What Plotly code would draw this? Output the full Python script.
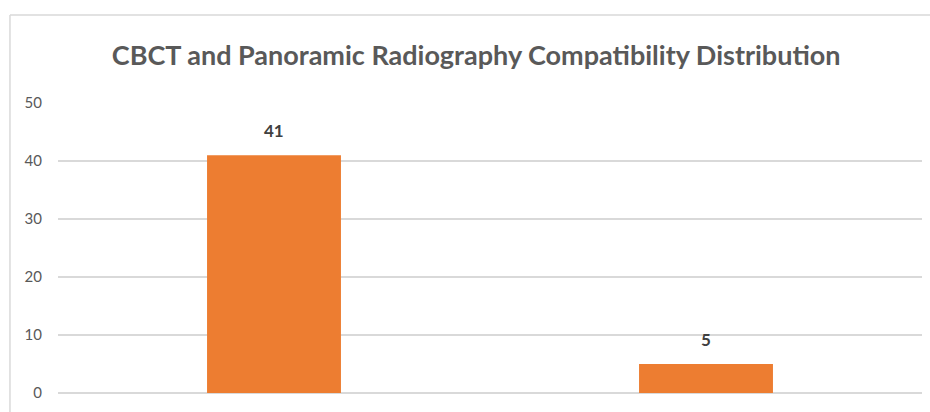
import plotly.graph_objects as go

# Chart data
categories = ["Compatible", "Not compatible"]
counts = [41, 5]
y_ticks = [0, 10, 20, 30, 40, 50]

title_text = "CBCT and Panoramic Radiography Compatibility Distribution"

BAR_COLOR = "#ED7D31"
TEXT_GRAY = "#595959"
LABEL_GRAY = "#404040"
GRID_GRAY = "#D9D9D9"
FONT = "Lato"

fig = go.Figure()

fig.add_trace(
    go.Bar(
        x=categories,
        y=counts,
        marker=dict(color=BAR_COLOR, line=dict(width=0)),
        hoverinfo="x+y",
        showlegend=False,
    )
)

# Value labels above each bar
for cat, val in zip(categories, counts):
    fig.add_annotation(
        x=cat,
        y=val,
        text=f"<b>{val}</b>",
        showarrow=False,
        yanchor="middle",
        yshift=25,
        font=dict(family=FONT, size=17, color=LABEL_GRAY),
    )

# Chart-area frame (left and top edges)
fig.add_shape(type="line", xref="paper", yref="paper",
              x0=-0.0556, x1=1.02, y0=1.3034, y1=1.3034,
              line=dict(color=GRID_GRAY, width=1.5))
fig.add_shape(type="line", xref="paper", yref="paper",
              x0=-0.0556, x1=-0.0556, y0=1.3034, y1=-0.1,
              line=dict(color=GRID_GRAY, width=1.5))

fig.update_layout(
    width=930,
    height=412,
    margin=dict(l=58, r=8, t=103, b=19),
    paper_bgcolor="white",
    plot_bgcolor="white",
    bargap=0.69,
    title=dict(
        text=f"<b>{title_text}</b>",
        x=0.512,
        xanchor="center",
        y=0.866,
        yanchor="middle",
        font=dict(family=FONT, size=27, color=TEXT_GRAY),
    ),
    xaxis=dict(
        showticklabels=False,
        showgrid=False,
        showline=False,
        zeroline=False,
        ticks="",
    ),
    yaxis=dict(
        range=[0, 50],
        tickvals=y_ticks,
        showgrid=True,
        gridcolor=GRID_GRAY,
        gridwidth=1.5,
        zeroline=True,
        zerolinecolor=GRID_GRAY,
        zerolinewidth=1.5,
        showline=False,
        ticks="",
        ticklabelstandoff=15,
        tickfont=dict(family=FONT, size=15, color=TEXT_GRAY),
    ),
)

fig.write_html("out.html")
